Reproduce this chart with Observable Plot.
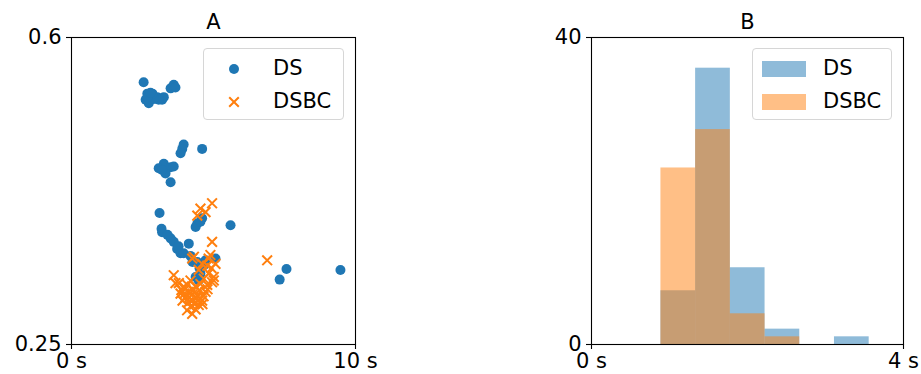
<!DOCTYPE html>
<html><head><meta charset="utf-8">
<script src="https://cdn.jsdelivr.net/npm/d3@7"></script>
<script src="https://cdn.jsdelivr.net/npm/@observablehq/plot@0.6"></script>
<style>
body{margin:0;background:#fff;font-family:"DejaVu Sans",sans-serif;}
#wrap{position:relative;width:921px;height:374px;overflow:hidden;background:#fff;}
.panel{position:absolute;top:0;}
.legend{position:absolute;box-sizing:border-box;border:1px solid #d6d6d6;border-radius:4px;background:rgba(255,255,255,0.8);font-size:21px;color:#000;}
.legend .lab{position:absolute;line-height:21px;}
.legend svg{position:absolute;overflow:visible;}
</style></head><body><div id="wrap"></div>
<script>
// ---- data ----
const seriesNames = ["DS", "DSBC"];
const seriesColors = ["#1f77b4", "#ff7f0e"];
const panelTitles = ["A", "B"];

// Panel A: scatter (x in seconds, y value)
const dsX = [2.54,3.60,3.49,3.66,2.67,2.78,2.61,2.72,3.02,3.19,3.25,3.07,2.90,2.85,2.68,2.78,
  3.95,3.90,4.60,3.84,3.25,3.07,3.49,3.60,3.31,3.49,3.19,
  3.10,3.17,3.19,3.49,3.60,3.72,3.84,4.13,4.43,4.37,4.60,4.54,4.43,4.66,5.07,4.37,4.48,4.54,3.95,5.60,7.57,7.33,9.47,4.26,4.72,3.38,3.77,4.19,4.51];
const dsY = [0.549,0.546,0.542,0.543,0.536,0.534,0.529,0.525,0.532,0.529,0.532,0.529,0.530,0.536,0.532,0.537,
  0.478,0.473,0.473,0.468,0.456,0.451,0.452,0.453,0.445,0.435,0.449,
  0.400,0.382,0.378,0.371,0.367,0.359,0.354,0.365,0.388,0.384,0.394,0.390,0.344,0.340,0.348,0.327,0.323,0.331,0.354,0.386,0.336,0.324,0.335,0.344,0.346,0.375,0.362,0.351,0.337];
const dsbcX = [4.95,4.72,4.43,4.54,4.95,6.89,4.25,4.83,4.89,5.01,3.60,3.66,4.48,4.78,4.25,3.78,3.95,3.84,4.01,4.13,
  4.25,4.43,4.48,4.19,4.60,4.72,4.78,4.95,5.01,4.83,5.07,4.31,4.60,4.66,4.37,4.07,3.91,4.12,4.33,4.51,
  4.01,4.26,4.44,4.65,4.15,3.87,4.37,4.54,4.79,4.30,4.08,4.19,3.98,4.40,4.61,4.93];
const dsbcY = [0.411,0.401,0.397,0.405,0.367,0.346,0.348,0.348,0.352,0.323,0.329,0.320,0.335,0.340,0.285,0.320,0.316,0.308,0.304,0.310,
  0.300,0.306,0.295,0.293,0.300,0.310,0.318,0.321,0.327,0.331,0.342,0.350,0.342,0.325,0.316,0.289,0.300,0.298,0.296,0.312,
  0.313,0.307,0.300,0.305,0.304,0.312,0.290,0.319,0.313,0.312,0.318,0.323,0.308,0.303,0.296,0.337];
const scatterXTicks = [0, 10];
const scatterYTicks = [0.25, 0.6];

// Panel B: histogram (bin edges in seconds, counts)
const binEdges = [0.89, 1.335, 1.78, 2.225, 2.67, 3.115, 3.56];
const dsCounts = [7, 36, 10, 2, 0, 1];
const dsbcCounts = [23, 28, 4, 1, 0, 0];
const histXTicks = [0, 4];
const histYTicks = [0, 40];

// ---- build tables ----
const dsPts = dsX.map((x, i) => ({x, y: dsY[i]}));
const dsbcPts = dsbcX.map((x, i) => ({x, y: dsbcY[i]}));
const bins = (counts) => counts.map((c, i) => ({x1: binEdges[i], x2: binEdges[i + 1], y: c})).filter(d => d.y > 0);

const FONT = "DejaVu Sans";
const FS = 21;
const common = {
  height: 374, marginTop: 37, marginBottom: 30,
  style: {fontFamily: FONT, fontSize: FS + "px", color: "#000", background: "transparent", overflow: "visible"}
};
const axisOpts = {tickSize: 5, fontSize: FS, label: null, stroke: "#000", strokeWidth: 1.1};

const plotA = Plot.plot({
  ...common, width: 460, marginLeft: 71, marginRight: 105,
  x: {domain: [0, 10]}, y: {domain: [0.25, 0.6]},
  marks: [
    Plot.dot(dsPts, {x: "x", y: "y", r: 5, fill: seriesColors[0], stroke: "none"}),
    Plot.dot(dsbcPts, {x: "x", y: "y", r: 4.5, symbol: "times", stroke: seriesColors[1], strokeWidth: 2}),
    Plot.frame({stroke: "#000", strokeWidth: 1.1}),
    Plot.axisX({...axisOpts, ticks: scatterXTicks, tickFormat: d => d + " s", tickPadding: 4}),
    Plot.axisY({...axisOpts, ticks: scatterYTicks, tickFormat: d => String(d), tickPadding: 5}),
    Plot.text([panelTitles[0]], {frameAnchor: "top", dy: -9, lineAnchor: "bottom", fontSize: FS, fill: "#000"})
  ]
});

const plotB = Plot.plot({
  ...common, width: 461, marginLeft: 131, marginRight: 18,
  x: {domain: [0, 4]}, y: {domain: [0, 40]},
  marks: [
    Plot.rectY(bins(dsCounts), {x1: "x1", x2: "x2", y: "y", fill: seriesColors[0], fillOpacity: 0.5}),
    Plot.rectY(bins(dsbcCounts), {x1: "x1", x2: "x2", y: "y", fill: seriesColors[1], fillOpacity: 0.5}),
    Plot.frame({stroke: "#000", strokeWidth: 1.1}),
    Plot.axisX({...axisOpts, ticks: histXTicks, tickFormat: d => d + " s", tickPadding: 4}),
    Plot.axisY({...axisOpts, ticks: histYTicks, tickFormat: d => String(d), tickPadding: 5}),
    Plot.text([panelTitles[1]], {frameAnchor: "top", dy: -9, lineAnchor: "bottom", fontSize: FS, fill: "#000"})
  ]
});

const wrap = document.getElementById("wrap");
plotA.classList.add("panel"); plotA.style.left = "0px"; plotA.style.position = "absolute";
plotB.classList.add("panel"); plotB.style.left = "460px"; plotB.style.position = "absolute";
wrap.appendChild(plotA); wrap.appendChild(plotB);

// ---- legends ----
function legend(left, top, w, h, kind) {
  const div = document.createElement("div");
  div.className = "legend";
  Object.assign(div.style, {left: left + "px", top: top + "px", width: w + "px", height: h + "px"});
  const ns = "http://www.w3.org/2000/svg";
  seriesNames.forEach((name, i) => {
    const cy = i === 0 ? 20 : 53;
    const svg = document.createElementNS(ns, "svg");
    svg.setAttribute("width", 60); svg.setAttribute("height", 30);
    svg.style.left = "0px"; svg.style.top = (cy - 15) + "px";
    if (kind === "scatter") {
      if (i === 0) {
        const c = document.createElementNS(ns, "circle");
        c.setAttribute("cx", 30); c.setAttribute("cy", 15); c.setAttribute("r", 5);
        c.setAttribute("fill", seriesColors[0]);
        svg.appendChild(c);
      } else {
        const p = document.createElementNS(ns, "path");
        p.setAttribute("d", "M25.2,10.2L34.8,19.8M25.2,19.8L34.8,10.2");
        p.setAttribute("stroke", seriesColors[1]); p.setAttribute("stroke-width", 2);
        svg.appendChild(p);
      }
    } else {
      const r = document.createElementNS(ns, "rect");
      r.setAttribute("x", 9); r.setAttribute("y", 7); r.setAttribute("width", 44); r.setAttribute("height", 16);
      r.setAttribute("fill", seriesColors[i]); r.setAttribute("fill-opacity", 0.5);
      svg.appendChild(r);
    }
    div.appendChild(svg);
    const lab = document.createElement("div");
    lab.className = "lab";
    lab.textContent = name;
    Object.assign(lab.style, {left: (kind === "scatter" ? 69 : 70) + "px", top: (cy - 11) + "px"});
    div.appendChild(lab);
  });
  wrap.appendChild(div);
}
legend(203, 48, 141, 72, "scatter");
legend(752, 48, 140, 72, "hist");
</script>
</body></html>
